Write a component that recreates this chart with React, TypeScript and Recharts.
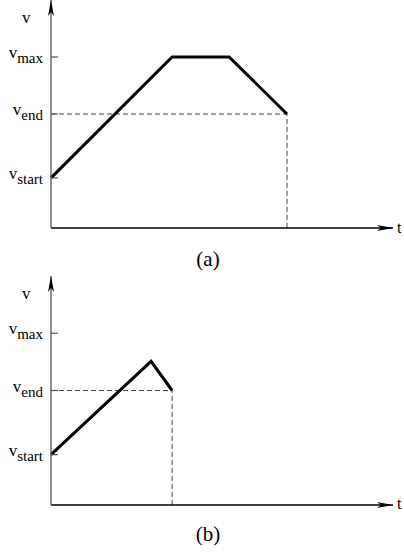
import React from 'react';
import { LineChart, Line, XAxis, YAxis, ReferenceLine, ReferenceDot, Label } from 'recharts';

const timeA = [0, 4.25, 6.25, 8.28];
const velA = [0.88, 3, 3, 2];
const timeB = [0, 3.51, 4.25];
const velB = [0.88, 2.51, 2];
const tickValues = [0.88, 2, 3];
const tickNames = ['start', 'end', 'max'];
const tMax = 12;
const vMax = 4;

const FONT = '"Liberation Serif", "Times New Roman", serif';

const VTick = (props: any) => {
  const { x, y, payload } = props;
  const idx = tickValues.indexOf(payload.value);
  const name = tickNames[idx] ?? '';
  return (
    <g>
      <line x1={x + 8} x2={x + 15} y1={y} y2={y} stroke="#555" strokeWidth={1.2} />
      <text x={x} y={y + 1} textAnchor="end" fontFamily={FONT} fontSize={17} fill="#000">
        <tspan>v</tspan>
        <tspan dy={5} fontSize={15}>{name}</tspan>
      </text>
    </g>
  );
};

const ArrowRight = (props: any) => {
  const { cx, cy } = props;
  return (
    <path
      d={`M${cx},${cy} L${cx - 16},${cy - 3} L${cx - 12},${cy} L${cx - 16},${cy + 3} Z`}
      fill="#000"
    />
  );
};

const ArrowUp = (props: any) => {
  const { cx, cy } = props;
  return (
    <path
      d={`M${cx},${cy} L${cx - 3},${cy + 16} L${cx},${cy + 12} L${cx + 3},${cy + 16} Z`}
      fill="#000"
    />
  );
};

type PanelProps = {
  times: number[];
  vels: number[];
  top: number;
  height: number;
  xAxisHeight: number;
  caption: string;
  captionY: number;
};

const Panel = ({ times, vels, top, height, xAxisHeight, caption, captionY }: PanelProps) => {
  const data = times.map((t, i) => ({ t, v: vels[i] }));
  const tEnd = times[times.length - 1];
  const vEnd = vels[vels.length - 1];
  return (
    <div style={{ position: 'absolute', left: 0, top }}>
      <LineChart width={404} height={height} data={data} margin={{ top: 0, right: 11, bottom: 0, left: 0 }}>
        <XAxis
          type="number"
          dataKey="t"
          domain={[0, tMax]}
          ticks={[]}
          tick={false}
          tickLine={false}
          height={xAxisHeight}
          axisLine={{ stroke: '#000', strokeWidth: 1.3 }}
        >
          <Label
            content={() => (
              <g>
                <text x={397} y={233} fontFamily={FONT} fontSize={16} fill="#000">t</text>
                <text x={208} y={captionY} textAnchor="middle" fontFamily={FONT} fontSize={21} fill="#000">
                  {caption}
                </text>
              </g>
            )}
          />
        </XAxis>
        <YAxis
          type="number"
          domain={[0, vMax]}
          ticks={tickValues}
          interval={0}
          width={51}
          tickSize={6}
          tickMargin={2}
          tickLine={false}
          tick={<VTick />}
          axisLine={{ stroke: '#555', strokeWidth: 1.3 }}
        >
          <Label
            content={() => (
              <text x={22} y={23} fontFamily={FONT} fontSize={17} fill="#000">v</text>
            )}
          />
        </YAxis>
        <ReferenceLine
          segment={[{ x: 0, y: vEnd }, { x: tEnd, y: vEnd }]}
          stroke="#444"
          strokeWidth={1}
          strokeDasharray="5 3"
        />
        <ReferenceLine
          segment={[{ x: tEnd, y: 0 }, { x: tEnd, y: vEnd }]}
          stroke="#444"
          strokeWidth={1}
          strokeDasharray="5 3"
        />
        <Line
          type="linear"
          dataKey="v"
          stroke="#000"
          strokeWidth={3}
          strokeLinejoin="miter"
          dot={false}
          activeDot={false}
          isAnimationActive={false}
        />
        <ReferenceDot x={tMax} y={0} ifOverflow="visible" shape={<ArrowRight />} />
        <ReferenceDot x={0} y={vMax} ifOverflow="visible" shape={<ArrowUp />} />
      </LineChart>
    </div>
  );
};

export default function App() {
  return (
    <div style={{ position: 'absolute', left: 0, top: 0, width: 404, height: 556, background: '#fff' }}>
      <Panel times={timeA} vels={velA} top={0} height={278} xAxisHeight={50} caption="(a)" captionY={266} />
      <Panel times={timeB} vels={velB} top={276} height={280} xAxisHeight={51} caption="(b)" captionY={265} />
    </div>
  );
}
